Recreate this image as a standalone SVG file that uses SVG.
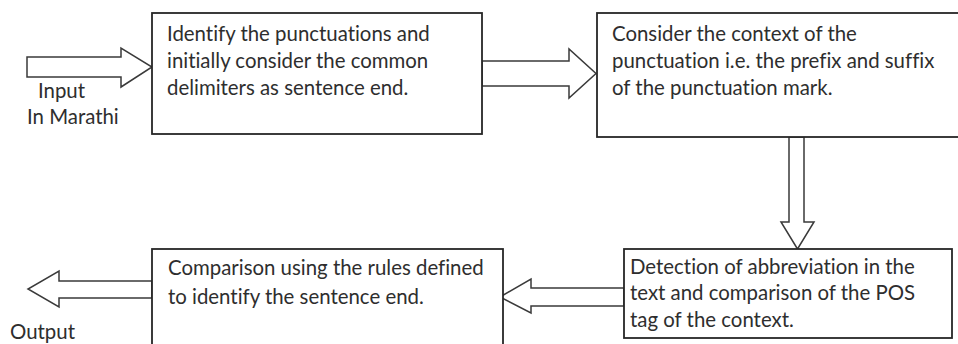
<svg xmlns="http://www.w3.org/2000/svg" width="958" height="344" viewBox="0 0 958 344">
<style>
.box{fill:#fff;stroke:#262626;stroke-width:1.8}
.arr{fill:#fff;stroke:#3a3a3a;stroke-width:1.5;stroke-linejoin:miter}
text{font-family:Lato,"Liberation Sans",sans-serif;font-size:20.4px;fill:#2e2e2e;font-variant-ligatures:none}
</style>
<rect width="958" height="344" fill="#fff"/>
<g id="connectors">
<polygon class="arr" points="27,57 121,57 121,48 152,67 121,87 121,77 27,77"/>
<polygon class="arr" points="482,61 569,61 569,49 596,73.5 569,98 569,86 482,86"/>
<polygon class="arr" points="789,137 789,222 781,222 797.5,249 814,222 804,222 804,137"/>
<polygon class="arr" points="624,288 531,288 531,279 500,297 531,313 531,306 624,306"/>
<polygon class="arr" points="152,281 59,281 59,271 28,289 59,307 59,298 152,298"/>
</g>
<g id="input">
<text x="38" y="98">Input</text>
<text x="27" y="124">In Marathi</text>
</g>
<g id="box1">
<rect class="box" x="152" y="13" width="330" height="121"/>
<text x="167" y="41">Identify the punctuations and</text>
<text x="167" y="68">initially consider the common</text>
<text x="167" y="95">delimiters as sentence end.</text>
</g>
<g id="box2">
<rect class="box" x="597" y="13" width="370" height="124"/>
<text x="612" y="41">Consider the context of the</text>
<text x="612" y="68">punctuation i.e. the prefix and suffix</text>
<text x="612" y="95">of the punctuation mark.</text>
</g>
<g id="box4">
<rect class="box" x="624" y="249" width="328" height="89"/>
<text x="630" y="274">Detection of abbreviation in the</text>
<text x="630" y="300">text and comparison of the POS</text>
<text x="630" y="327">tag of the context.</text>
</g>
<g id="box3">
<rect class="box" x="152" y="249" width="351" height="110"/>
<text x="168" y="275">Comparison using the rules defined</text>
<text x="168" y="304">to identify the sentence end.</text>
</g>
<g id="output">
<text x="10" y="339">Output</text>
</g>
</svg>
